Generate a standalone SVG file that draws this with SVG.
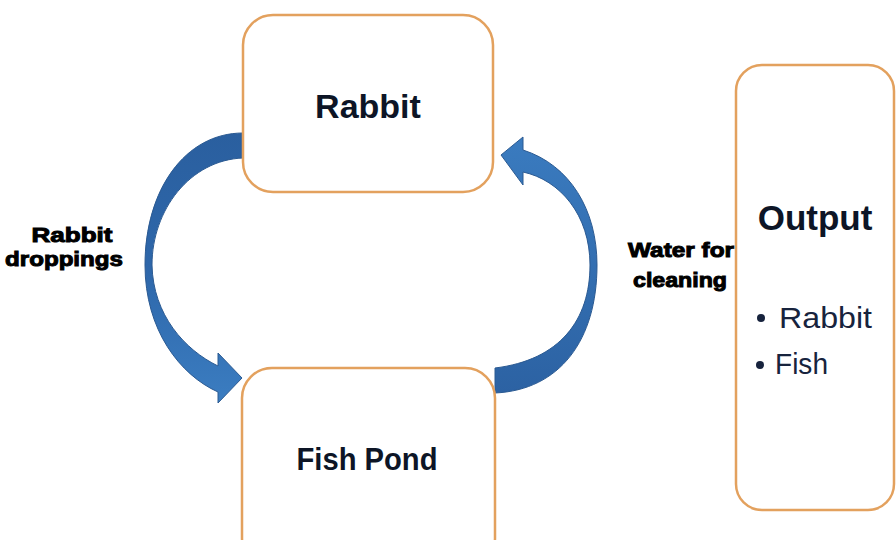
<svg xmlns="http://www.w3.org/2000/svg" width="896" height="540" viewBox="0 0 896 540">
<defs>
<style>
.box{fill:#fff;stroke:#e3a15e;stroke-width:2.5}
.arrow{stroke:#2b5a92;stroke-width:1}
.title{font-family:"Liberation Sans",Arial,sans-serif;font-weight:bold;fill:#0d1526;text-anchor:middle}
.lbl{font-family:"Liberation Sans",Arial,sans-serif;font-weight:bold;fill:#000;stroke:#000;stroke-width:1;text-anchor:middle;font-size:21px}
.item{font-family:"Liberation Sans",Arial,sans-serif;fill:#17233d;font-size:29px}
</style>
<linearGradient id="gL" x1="0" y1="0" x2="0" y2="1">
<stop offset="0" stop-color="#2a5f9f"/>
<stop offset="0.5" stop-color="#2e67aa"/>
<stop offset="1" stop-color="#3b7dc1"/>
</linearGradient>
<linearGradient id="gR" x1="0" y1="1" x2="0" y2="0">
<stop offset="0" stop-color="#2c62a3"/>
<stop offset="1" stop-color="#3a7bbf"/>
</linearGradient>
</defs>
<rect width="896" height="540" fill="#fff"/>
<g id="connectors">
<path class="arrow" fill="url(#gL)" d="M243,133 C185,133 145,190 145,265 C145,330 180,375 218,392 L218,403 L242,378 L218,353 L218,366 C185,350 153,315 152,265 C152,210 190,160 243,158 Z"/>
<path class="arrow" fill="url(#gR)" d="M495,368 C560,360 590,320 590,265 C590,215 560,180 523,172 L523,185 L501,155 L523,137 L523,150 C570,165 597,210 597,265 C597,340 560,390 495,393 Z"/>
</g>
<g id="rabbit">
<rect class="box" x="243" y="15" width="250" height="177" rx="30"/>
<text class="title" x="368" y="118" font-size="34">Rabbit</text>
</g>
<g id="fishpond">
<rect class="box" x="242" y="368" width="253" height="200" rx="30"/>
<text class="title" x="367" y="470" font-size="32" textLength="141" lengthAdjust="spacingAndGlyphs">Fish Pond</text>
</g>
<g id="output">
<rect class="box" x="736" y="65" width="158" height="445" rx="26"/>
<text class="title" x="815" y="230" font-size="35">Output</text>
<circle cx="761" cy="318" r="4" fill="#17233d"/>
<text class="item" x="779" y="328" textLength="93" lengthAdjust="spacingAndGlyphs">Rabbit</text>
<circle cx="760" cy="365" r="4" fill="#17233d"/>
<text class="item" x="775" y="374" textLength="53" lengthAdjust="spacingAndGlyphs">Fish</text>
</g>
<g id="label-droppings">
<text class="lbl" x="72" y="242" textLength="81" lengthAdjust="spacingAndGlyphs">Rabbit</text>
<text class="lbl" x="64" y="266" textLength="118" lengthAdjust="spacingAndGlyphs">droppings</text>
</g>
<g id="label-water">
<text class="lbl" x="681" y="257" textLength="106" lengthAdjust="spacingAndGlyphs">Water for</text>
<text class="lbl" x="680" y="287" textLength="94" lengthAdjust="spacingAndGlyphs">cleaning</text>
</g>
</svg>
